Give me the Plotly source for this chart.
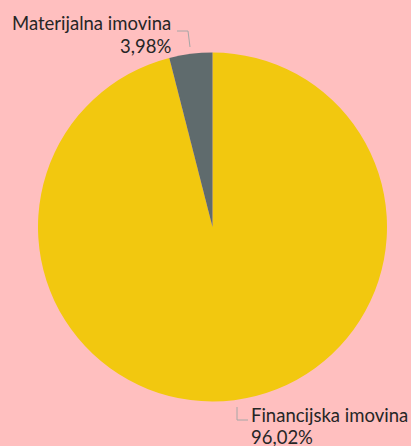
import plotly.graph_objects as go

labels = ["Financijska imovina", "Materijalna imovina"]
values = [96.02, 3.98]
value_text = ["96,02%", "3,98%"]
colors = ["#F2C80F", "#5F6B6D"]

W, H = 411, 446
def px(x): return x / W
def py(y): return 1 - y / H

fig = go.Figure(go.Pie(
    labels=labels, values=values, sort=False, direction="clockwise",
    rotation=0, marker=dict(colors=colors, line=dict(width=0)),
    textinfo="none", hoverinfo="label+percent", showlegend=False,
    domain=dict(x=[px(38), px(387)], y=[py(402), py(52)]),
))

font = dict(family="Lato, Open Sans, sans-serif", size=18.5, color="#262626")
fig.add_annotation(x=px(173), y=py(23), xref="paper", yref="paper", xanchor="right", yanchor="middle",
                   text=labels[1], showarrow=False, font=font)
fig.add_annotation(x=px(173), y=py(46), xref="paper", yref="paper", xanchor="right", yanchor="middle",
                   text=value_text[1], showarrow=False, font=font)
fig.add_annotation(x=px(249), y=py(415), xref="paper", yref="paper", xanchor="left", yanchor="middle",
                   text=labels[0], showarrow=False, font=font)
fig.add_annotation(x=px(249), y=py(437), xref="paper", yref="paper", xanchor="left", yanchor="middle",
                   text=value_text[0], showarrow=False, font=font)

line = dict(color="#A6A6A6", width=1)
fig.add_shape(type="path", xref="paper", yref="paper",
              path=f"M {px(177)},{py(31)} L {px(188)},{py(31)} L {px(190)},{py(47)}", line=line)
fig.add_shape(type="path", xref="paper", yref="paper",
              path=f"M {px(237)},{py(407)} L {px(237)},{py(420)} L {px(248)},{py(420)}", line=line)

fig.update_layout(width=W, height=H, margin=dict(l=0, r=0, t=0, b=0),
                  paper_bgcolor="#FFBFBF", plot_bgcolor="#FFBFBF")
fig.write_html("out.html", config={"displayModeBar": False},
               post_script="document.body.style.margin='0';document.body.style.overflow='hidden';")
